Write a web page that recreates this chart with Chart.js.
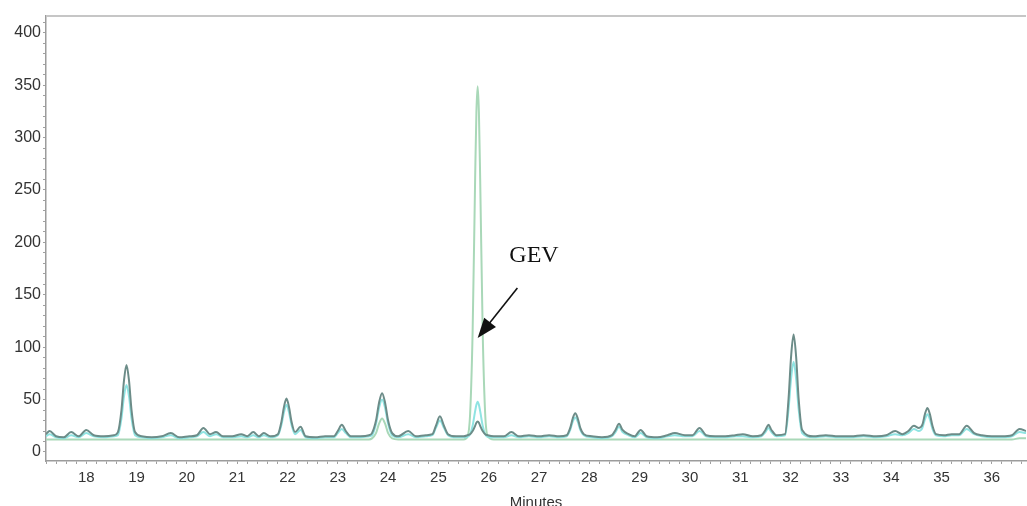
<!DOCTYPE html>
<html>
<head>
<meta charset="utf-8">
<title>Chromatogram</title>
<script src="https://cdn.jsdelivr.net/npm/chart.js@4.4.1/dist/chart.umd.min.js"></script>
<style>
  html, body { margin: 0; padding: 0; background: #fff; overflow: hidden; }
  #chart-wrap { position: relative; width: 1027px; height: 514px; }
</style>
</head>
<body>
<div id="chart-wrap"><canvas id="chromatogram"></canvas></div>
<script>
// Retention time (minutes) for every sample point
const minutes = [
  17.20, 17.27, 17.40, 17.55, 17.70, 17.85, 18.00, 18.15, 18.35, 18.55,
  18.63, 18.70, 18.75, 18.80, 18.85, 18.90, 18.97, 19.10, 19.30, 19.50,
  19.68, 19.85, 20.05, 20.20, 20.33, 20.46, 20.58, 20.72, 20.90, 21.08,
  21.20, 21.32, 21.43, 21.53, 21.66, 21.81, 21.88, 21.93, 21.98, 22.03,
  22.08, 22.15, 22.26, 22.36, 22.55, 22.75, 22.92, 23.00, 23.08, 23.16,
  23.26, 23.45, 23.62, 23.68, 23.76, 23.82, 23.88, 23.94, 24.00, 24.08,
  24.20, 24.40, 24.55, 24.75, 24.88, 24.95, 25.03, 25.11, 25.19, 25.35,
  25.50, 25.58, 25.63, 25.68, 25.73, 25.755, 25.78, 25.805, 25.83, 25.88,
  25.93, 25.98, 26.10, 26.30, 26.45, 26.60, 26.80, 27.00, 27.20, 27.40,
  27.55, 27.62, 27.67, 27.72, 27.77, 27.82, 27.89, 28.05, 28.25, 28.45,
  28.52, 28.59, 28.66, 28.78, 28.90, 29.02, 29.14, 29.35, 29.55, 29.70,
  29.90, 30.05, 30.19, 30.32, 30.50, 30.70, 30.90, 31.05, 31.25, 31.42,
  31.50, 31.56, 31.62, 31.72, 31.89, 31.96, 32.01, 32.06, 32.11, 32.16,
  32.23, 32.45, 32.70, 32.95, 33.20, 33.45, 33.70, 33.90, 34.08, 34.22,
  34.34, 34.45, 34.55, 34.62, 34.67, 34.72, 34.77, 34.82, 34.89, 35.05,
  35.20, 35.35, 35.50, 35.65, 35.80, 36.00, 36.20, 36.40, 36.55, 36.68
];

// Sample run (dark trace)
const sampleA = [
  17, 20, 15, 14, 19, 15, 21, 16, 15, 16,
  19, 40, 68, 83, 68, 40, 19, 15, 14, 15,
  18, 14, 15, 16, 23, 17, 19, 15, 15, 17,
  15, 19, 15, 18, 15, 17, 29, 43, 51, 43,
  29, 19, 24, 15, 14, 15, 15, 20, 26, 20,
  15, 15, 16, 18, 30, 47, 56, 47, 30, 18,
  15, 20, 15, 16, 17, 25, 34, 25, 17, 15,
  15, 16, 17, 20, 25, 28, 29, 28, 25, 20,
  17, 16, 15, 15, 19, 15, 16, 15, 16, 15,
  16, 23, 32, 37, 32, 23, 17, 15, 14, 16,
  21, 27, 21, 17, 15, 21, 15, 14, 16, 18,
  16, 16, 23, 16, 15, 15, 16, 17, 15, 16,
  21, 26, 21, 16, 17, 51, 91, 112, 91, 51,
  21, 15, 16, 15, 15, 16, 15, 16, 20, 17,
  20, 25, 23, 26, 36, 42, 36, 25, 17, 16,
  17, 17, 25, 18, 16, 15, 15, 16, 22, 20
];

// Sample run (light cyan trace)
const sampleB = [
  15, 17, 14, 13, 16, 14, 18, 15, 14, 15,
  16, 32, 53, 64, 53, 32, 16, 14, 13, 14,
  16, 13, 14, 15, 19, 15, 17, 14, 14, 15,
  14, 16, 14, 16, 14, 16, 26, 38, 45, 38,
  26, 17, 21, 14, 13, 14, 14, 18, 22, 18,
  14, 14, 15, 16, 27, 42, 50, 42, 27, 16,
  14, 17, 14, 15, 16, 23, 30, 23, 16, 14,
  14, 14.5, 17, 25, 39, 45, 48, 45, 39, 25,
  17, 14.5, 14, 14, 16, 14, 15, 14, 15, 14,
  15, 21, 29, 33, 29, 21, 16, 14, 13, 15,
  19, 24, 19, 16, 14, 18, 14, 13, 15, 16,
  15, 15, 20, 15, 14, 14, 15, 15, 14, 15,
  19, 23, 19, 15, 16, 41, 70, 86, 70, 41,
  18, 14, 15, 14, 14, 15, 14, 15, 17, 16,
  18, 22, 20, 23, 31, 36, 31, 22, 16, 15,
  16, 16, 22, 17, 15, 14, 14, 15, 19, 18
];

// GEV reference standard (green trace)
const standard = [
  12, 12, 12, 12, 12, 12, 12, 12, 12, 12,
  12, 12, 12, 12, 12, 12, 12, 12, 12, 12,
  12, 12, 12, 12, 12, 12, 12, 12, 12, 12,
  12, 12, 12, 12, 12, 12, 12, 12, 12, 12,
  12, 12, 12, 12, 12, 12, 12, 12, 12, 12,
  12, 12, 12, 13, 18, 27, 32, 27, 18, 13,
  12, 12, 12, 12, 12, 12, 12, 12, 12, 12,
  12, 15, 36, 115, 261, 324, 349, 324, 261, 115,
  36, 15, 12, 12, 12, 12, 12, 12, 12, 12,
  12, 12, 12, 12, 12, 12, 12, 12, 12, 12,
  12, 12, 12, 12, 12, 12, 12, 12, 12, 12,
  12, 12, 12, 12, 12, 12, 12, 12, 12, 12,
  12, 12, 12, 12, 12, 12, 12, 12, 12, 12,
  12, 12, 12, 12, 12, 12, 12, 12, 12, 12,
  12, 12, 12, 12, 12, 12, 12, 12, 12, 12,
  12, 12, 12, 12, 12, 12, 12, 12, 13, 13
];

// Axis ranges and tick spacing
const timeRange = [17.2, 36.68];
const signalRange = [-8.6, 416];
const timeLabelStep = 1;
const signalLabelStep = 50;

// Arrow note pointing at the GEV peak (data coordinates)
const gevNote = { text: 'GEV', x: 26.41, y: 181, from: [26.57, 156.5], to: [25.78, 108.8] };

function toPoints(values) {
  return values.map((v, i) => ({ x: minutes[i], y: v }));
}

function isMultiple(value, step) {
  const r = value / step;
  return Math.abs(r - Math.round(r)) < 1e-6;
}

// Light frame line along the top of the plot
const topFrame = {
  id: 'topFrame',
  beforeDatasetsDraw(chart) {
    const { ctx, chartArea } = chart;
    ctx.save();
    ctx.strokeStyle = '#c6c6c6';
    ctx.lineWidth = 2;
    ctx.beginPath();
    ctx.moveTo(chartArea.left, chartArea.top);
    ctx.lineTo(chartArea.right, chartArea.top);
    ctx.stroke();
    ctx.restore();
  }
};

// "GEV" label with an arrow
const peakNote = {
  id: 'peakNote',
  afterDatasetsDraw(chart) {
    const { ctx, scales } = chart;
    const x = scales.x, y = scales.y;
    const x0 = x.getPixelForValue(gevNote.from[0]);
    const y0 = y.getPixelForValue(gevNote.from[1]);
    const x1 = x.getPixelForValue(gevNote.to[0]);
    const y1 = y.getPixelForValue(gevNote.to[1]);
    const angle = Math.atan2(y1 - y0, x1 - x0);
    const headLen = 20;
    const headHalf = 7.5;

    ctx.save();
    ctx.strokeStyle = '#111';
    ctx.fillStyle = '#111';
    ctx.lineWidth = 1.6;
    ctx.beginPath();
    ctx.moveTo(x0, y0);
    ctx.lineTo(x1 - Math.cos(angle) * headLen * 0.8, y1 - Math.sin(angle) * headLen * 0.8);
    ctx.stroke();

    // arrow head
    const bx = x1 - Math.cos(angle) * headLen;
    const by = y1 - Math.sin(angle) * headLen;
    ctx.beginPath();
    ctx.moveTo(x1, y1);
    ctx.lineTo(bx + Math.sin(angle) * headHalf, by - Math.cos(angle) * headHalf);
    ctx.lineTo(bx - Math.sin(angle) * headHalf, by + Math.cos(angle) * headHalf);
    ctx.closePath();
    ctx.fill();

    ctx.font = '24px "Liberation Serif", "Times New Roman", serif';
    ctx.textAlign = 'left';
    ctx.textBaseline = 'alphabetic';
    ctx.fillText(gevNote.text, x.getPixelForValue(gevNote.x), y.getPixelForValue(gevNote.y));
    ctx.restore();
  }
};

const labelFamily = '"Liberation Sans", Arial, sans-serif';

new Chart(document.getElementById('chromatogram'), {
  type: 'line',
  data: {
    datasets: [
      {
        label: 'Sample A',
        data: toPoints(sampleA),
        borderColor: '#6c8c88',
        borderWidth: 2
      },
      {
        label: 'Sample B',
        data: toPoints(sampleB),
        borderColor: '#8fe4e2',
        borderWidth: 2
      },
      {
        label: 'GEV standard',
        data: toPoints(standard),
        borderColor: '#a9d8b8',
        borderWidth: 2
      }
    ]
  },
  options: {
    responsive: true,
    maintainAspectRatio: false,
    animation: false,
    parsing: false,
    layout: { padding: { top: 16, right: 0, bottom: 0, left: 0 } },
    elements: {
      point: { radius: 0 },
      line: { cubicInterpolationMode: 'monotone', fill: false }
    },
    plugins: {
      legend: { display: false },
      tooltip: { enabled: false }
    },
    scales: {
      x: {
        type: 'linear',
        min: timeRange[0],
        max: timeRange[1],
        afterFit(scale) { scale.height = 53; },
        border: { display: true, color: '#9c9c9c', width: 1.5 },
        grid: { display: true, drawOnChartArea: false, drawTicks: true, tickLength: 3, color: '#a0a0a0' },
        ticks: {
          stepSize: 0.2,
          includeBounds: false,
          autoSkip: false,
          maxRotation: 0,
          padding: 5,
          color: '#333',
          font: { family: labelFamily, size: 15 },
          callback: v => isMultiple(v, timeLabelStep) ? String(Math.round(v)) : ''
        },
        title: {
          display: true,
          text: 'Minutes',
          color: '#333',
          font: { family: labelFamily, size: 15 },
          padding: { top: 0, bottom: 2 }
        }
      },
      y: {
        min: signalRange[0],
        max: signalRange[1],
        afterFit(scale) { scale.width = 46; },
        border: { display: true, color: '#9c9c9c', width: 1.5 },
        grid: { display: true, drawOnChartArea: false, drawTicks: true, tickLength: 3, color: '#a0a0a0' },
        ticks: {
          stepSize: 10,
          includeBounds: false,
          autoSkip: false,
          padding: 2,
          color: '#333',
          font: { family: labelFamily, size: 16 },
          callback: v => isMultiple(v, signalLabelStep) ? String(Math.round(v)) : ''
        }
      }
    }
  },
  plugins: [topFrame, peakNote]
});
</script>
</body>
</html>
